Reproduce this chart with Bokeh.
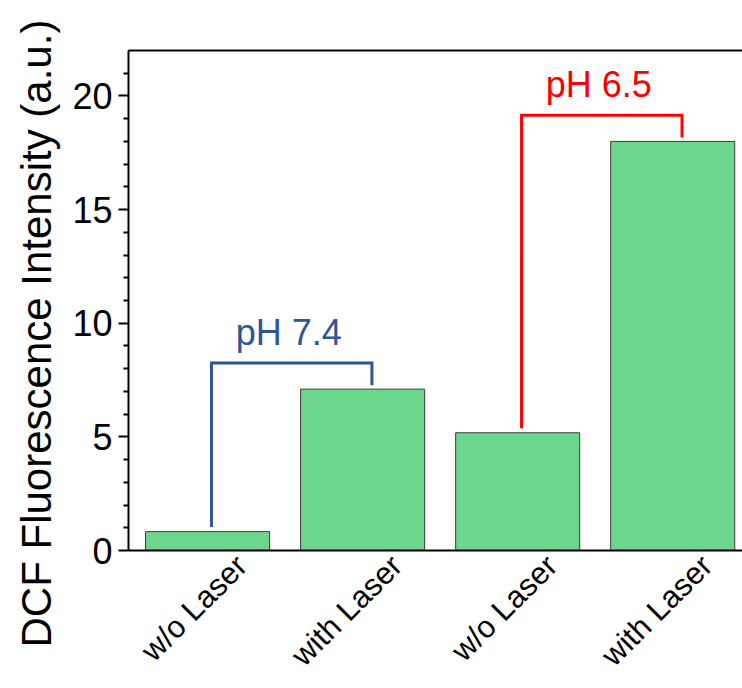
import math
from bokeh.plotting import figure
from bokeh.models import (ColumnDataSource, Range1d, FixedTicker, LinearAxis,
                          Label, Title)
from bokeh.embed import file_html
from bokeh.resources import INLINE

# ---- data ----
positions = [1, 2, 3, 4]
labels = ["w/o Laser", "with Laser", "w/o Laser", "with Laser"]
intensity = [0.83, 7.1, 5.18, 18.0]
groups = ["pH 7.4", "pH 6.5"]
group_members = [(0, 1), (2, 3)]
group_colors = ["#2F5597", "#FF0000"]
y_major = [0, 5, 10, 15, 20]

FONT = "Liberation Sans"

p = figure(width=742, height=688, output_backend="svg", toolbar_location=None,
           x_range=Range1d(0.49, 4.45), y_range=Range1d(0, 22),
           min_border_left=128, min_border_right=0, min_border_top=50,
           min_border_bottom=137)
p.grid.visible = False
p.outline_line_color = None
p.background_fill_color = "white"
p.border_fill_color = "white"

src = ColumnDataSource(dict(x=positions, top=intensity, label=labels))
p.vbar(x="x", top="top", bottom=0, width=0.8, source=src,
       fill_color="#6DD68D", line_color="#3A3A3A", line_width=1)

# brackets
for (a, b), name, col in zip(group_members, groups, group_colors):
    top = max(intensity[a], intensity[b]) + 1.15
    xa = positions[a] + 0.025
    xb = positions[b] + 0.06
    p.line(x=[xa, xa, xb, xb],
           y=[intensity[a] + 0.2, top, top, intensity[b] + 0.17],
           line_color=col, line_width=3, line_join="miter")
    p.add_layout(Label(x=(xa + xb) / 2, y=top, text=name, y_offset=31,
                       x_offset=-3,
                       text_align="center", text_baseline="alphabetic",
                       text_font=FONT, text_font_size="36px", text_color=col))

# y axis
ya = p.yaxis[0]
ya.ticker = FixedTicker(ticks=y_major,
                        minor_ticks=[v for v in range(0, 22) if v not in y_major])
ya.major_tick_out = 10
ya.major_tick_in = 0
ya.minor_tick_out = 5
ya.minor_tick_in = 0
ya.major_tick_line_width = 2
ya.minor_tick_line_width = 2
ya.axis_line_width = 2
ya.axis_line_color = "black"
ya.major_tick_line_color = "black"
ya.minor_tick_line_color = "black"
ya.major_label_standoff = 6
ya.major_label_text_font = FONT
ya.major_label_text_font_size = "36px"
ya.major_label_text_color = "black"

# y title as a side-panel title, starting below the frame like the reference
p.add_layout(Title(text="DCF Fluorescence Intensity (a.u.)", align="left",
                   offset=-97, standoff=20, text_font=FONT,
                   text_font_style="normal", text_font_size="42px",
                   text_color="black"), "left")

# x axis: labels anchored to the right of each bar centre
shift = 0.22
label_ticks = [x + shift for x in positions]
xa_ = p.xaxis[0]
xa_.ticker = FixedTicker(ticks=label_ticks)
xa_.major_label_overrides = {t: l for t, l in zip(label_ticks, labels)}
xa_.major_label_orientation = math.pi / 4
xa_.major_label_standoff = 10
xa_.major_label_text_font = FONT
xa_.major_label_text_font_size = "31px"
xa_.major_label_text_color = "black"
xa_.major_tick_out = 0
xa_.major_tick_in = 0
xa_.minor_tick_out = 0
xa_.minor_tick_in = 0
xa_.axis_line_width = 2
xa_.axis_line_color = "black"

# top frame line
top_axis = LinearAxis(ticker=FixedTicker(ticks=[]), axis_line_width=2,
                      axis_line_color="black", major_tick_out=0, major_tick_in=0,
                      minor_tick_out=0, minor_tick_in=0)
p.add_layout(top_axis, "above")

open("out.html", "w").write(file_html(p, INLINE))
